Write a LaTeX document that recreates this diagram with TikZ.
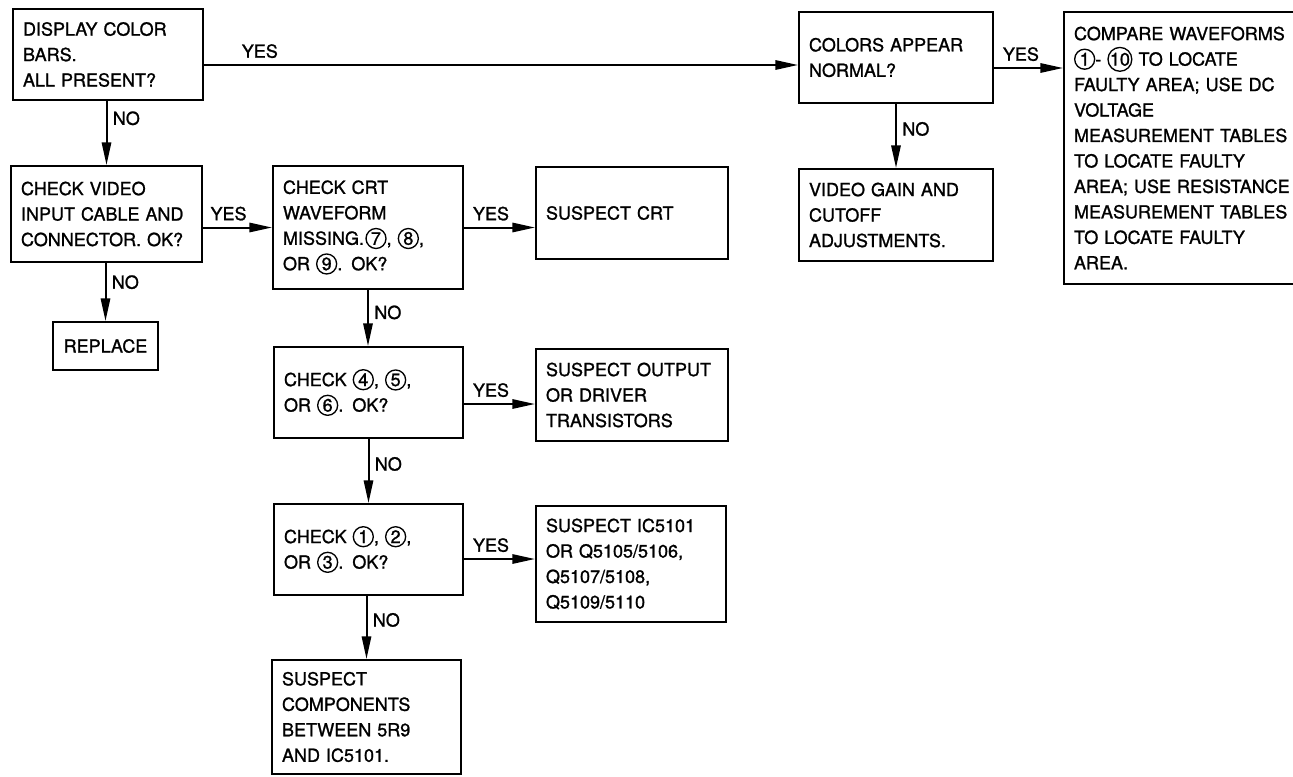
\documentclass[tikz,border=0pt]{standalone}
\usepackage{fontspec}
\setmainfont{TeX Gyre Heros}[FakeBold=1.2]
\usetikzlibrary{positioning,arrows.meta,calc}

\def\pu{0.75pt}
% circled test point number
\newcommand{\cnum}[1]{\tikz[baseline=(cn.base)]\node[shape=circle,draw,line width=1pt,inner sep=0pt,
  minimum size=15pt,text width=,align=center,anchor=center] (cn) {#1};}

\tikzset{
  box/.style n args={2}{draw,line width=1.5pt,anchor=north west,inner xsep=7.5pt,inner ysep=0pt,
    minimum width=#1*\pu,minimum height=#2*\pu,text width=#1*\pu-15pt,align=left},
  flow/.style={line width=1.5pt,-{Triangle[length=17pt,width=7pt]}},
  lbl/.style={inner sep=3pt}
}

\begin{document}
\begin{tikzpicture}[x=\pu,y=-\pu,font=\fontsize{13.5pt}{19.1pt}\selectfont]
  \useasboundingbox (0,0) rectangle (1293,776);
  \clip (0,0) rectangle (1293,776);
  % top row
  \node[box={190}{91}] (disp) at (12,8) {DISPLAY COLOR\\BARS.\\ALL PRESENT?};
  \node[box={194}{91}] (colors) at (798,11) {COLORS APPEAR\\NORMAL?};
  \node[box={260}{272}] (comp) at (1063,11) {COMPARE WAVEFORMS\\\cnum{1}- \cnum{10} TO LOCATE\\FAULTY AREA; USE DC\\VOLTAGE\\MEASUREMENT TABLES\\TO LOCATE FAULTY\\AREA; USE RESISTANCE\\MEASUREMENT TABLES\\TO LOCATE FAULTY\\AREA.};
  \node[box={194}{92}] (gain) at (798,168) {VIDEO GAIN AND\\CUTOFF\\ADJUSTMENTS.};
  % left column
  \node[box={191}{96}] (video) at (10,165) {CHECK VIDEO\\INPUT CABLE AND\\CONNECTOR. OK?};
  \node[box={105}{48},align=center] (replace) at (52,321) {REPLACE};
  % middle column
  \node[box={190}{123}] (crt) at (272,165) {CHECK CRT\\WAVEFORM\\MISSING.\kern1pt\cnum{7}, \cnum{8},\\OR \cnum{9}. OK?};
  \node[box={192}{92}] (scrt) at (535,166) {SUSPECT CRT};
  \node[box={189}{91}] (chkB) at (273,346) {CHECK \cnum{4}, \cnum{5},\\OR \cnum{6}. OK?};
  \node[box={192}{92}] (sout) at (535,348) {SUSPECT OUTPUT\\OR DRIVER\\TRANSISTORS};
  \node[box={189}{91}] (chkA) at (273,503) {CHECK \cnum{1}, \cnum{2},\\OR \cnum{3}. OK?};
  \node[box={190}{116}] (sic) at (535,505) {SUSPECT IC5101\\OR Q5105/5106,\\Q5107/5108,\\Q5109/5110};
  \node[box={189}{114}] (scomp) at (271,659) {SUSPECT\\COMPONENTS\\BETWEEN 5R9\\AND IC5101.};

  % connectors
  \draw[flow] ($(disp.north east)+(0,57)$) coordinate (t1) -- (t1 -| colors.west)
    node[lbl,pos=0.094,above=1.5pt]{YES};
  \draw[flow] ($(colors.north east)+(0,57)$) coordinate (t2) -- (t2 -| comp.west)
    node[lbl,pos=0.39,above=1.5pt]{YES};
  \draw[flow] (colors.south) -- (gain.north) node[lbl,pos=0.39,right=1pt]{NO};
  \draw[flow] (disp.south -| video.north) -- (video.north) node[lbl,pos=0.27,right=1pt]{NO};
  \draw[flow] (video.south -| replace.north) -- (replace.north) node[lbl,pos=0.33,right=1pt]{NO};
  \draw[flow] (video.east |- crt.west) -- (crt.west) node[lbl,pos=0.37,above=1.5pt]{YES};
  \draw[flow] (crt.east) -- (crt.east -| scrt.west) node[lbl,pos=0.38,above=1.5pt]{YES};
  \draw[flow] (crt.south) -- (crt.south |- chkB.north) node[lbl,pos=0.4,right=1pt]{NO};
  \draw[flow] ($(chkB.north east)+(0,58)$) coordinate (t3) -- (t3 -| sout.west)
    node[lbl,pos=0.38,above=1.5pt]{YES};
  \draw[flow] (chkB.south) -- (chkB.south |- chkA.north) node[lbl,pos=0.39,right=1pt]{NO};
  \draw[flow] ($(chkA.north east)+(0,56)$) coordinate (t4) -- (t4 -| sic.west)
    node[lbl,pos=0.38,above=1.5pt]{YES};
  \draw[flow] (chkA.south -| scomp.north) -- (scomp.north) node[lbl,pos=0.38,right=1pt]{NO};
\end{tikzpicture}
\end{document}
